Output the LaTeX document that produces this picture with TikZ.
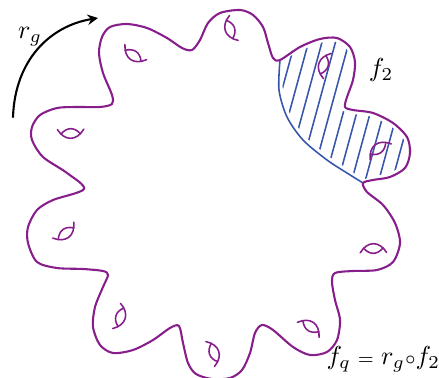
\documentclass[tikz,border=0pt]{standalone}
\usetikzlibrary{arrows}
\definecolor{plum}{RGB}{135,30,140}
\definecolor{hatchblue}{RGB}{55,85,170}
\tikzset{
  outline/.style={plum, line width=0.8pt},
  border/.style={hatchblue, line width=0.6pt},
  hatch/.style={hatchblue, line width=0.6pt},
  fish/.pic={
    \draw[outline, line width=0.6pt] (-1.1,0.55) .. controls (-0.5,-0.45) and (0.5,-0.45) .. (1.1,0.55);
    \draw[outline, line width=0.6pt] (-0.81,0.17) .. controls (-0.3,0.75) and (0.3,0.75) .. (0.81,0.17);
  }
}
\begin{document}
\begin{tikzpicture}[>=stealth, x=0.0135cm, y=0.0135cm, line join=round, line cap=round]
        \useasboundingbox (0,0) rectangle (439,378);
        % hatched part f_2
        \begin{scope}
          \clip plot[smooth cycle] coordinates {(280,318) (300,331) (320,339) (337,340) (350,331) (355,316)
            (353,298) (347,281) (345,271) (353,268) (373,265) (393,255) (407,241) (410,225) (405,210)
            (390,201) (373,198) (363,195) (347,205) (327,218) (303,238) (287,261) (279,288)};
          \foreach \k in {0,...,12}
            \draw[hatch] (284+\k*13.5,345) -- ++(-45,-165);
          \draw[white, line width=3pt] plot[smooth cycle] coordinates {(280,318) (300,331) (320,339) (337,340) (350,331) (355,316)
            (353,298) (347,281) (345,271) (353,268) (373,265) (393,255) (407,241) (410,225) (405,210)
            (390,201) (373,198) (363,195) (347,205) (327,218) (303,238) (287,261) (279,288)};
        \end{scope}
        \draw[border] plot[smooth] coordinates {(280,318) (279,288) (287,261) (303,238) (327,218) (347,205) (363,195)};
        % the wavy curve
        \draw[outline] plot[smooth cycle] coordinates {
          (84,189) (67,205) (43,221) (32,238) (32,251) (40,263) (57,270) (77,271) (100,271) (112,274)
          (112,283) (103,305) (99,325) (102,341) (110,351) (127,354) (147,350) (167,340) (182,330) (192,328)
          (200,338) (208,355) (220,365) (240,368) (253,363) (263,351) (268,335) (273,320) (280,318)
          (300,331) (320,339) (337,340) (350,331) (355,316) (353,298) (347,281) (345,271)
          (353,268) (373,265) (393,255) (407,241) (410,225) (405,210) (390,201) (373,198) (363,195)
          (367,186) (383,173) (395,155) (400,135) (393,116) (377,108) (353,107) (335,105)
          (332,96) (335,78) (340,58) (337,38) (327,26) (310,23) (293,31) (273,48) (262,53)
          (255,45) (250,25) (242,8) (230,0) (212,-1) (196,4) (188,15) (183,35) (179,52)
          (170,50) (153,38) (133,28) (113,25) (100,33) (93,51) (95,71) (103,91) (108,103)
          (103,107) (83,109) (57,110) (37,116) (28,135) (28,151) (37,168) (53,178)};
        % fish marks
        \begin{scope}[shift={(222,187)}]
          \foreach \a in {16,52,...,340}
            \pic[rotate=\a-159, scale=12] at (\a:161) {fish};
        \end{scope}
        % rotation r_g
        \coordinate (rgstart) at (13,261);
        \coordinate (rgend) at (98,360);
        \draw[->, line width=0.8pt] (rgstart) .. controls (15,318) and (50,352) .. (rgend);
        \node (rg) at (30,341) {$r_g$};
        \node (ftwo) at (381,308) {$f_2$};
        \node (fq) [anchor=base west, inner sep=0pt] at (326,13)
          {$f_q \mathrel{\scriptstyle =} r_g{\scriptstyle\circ}f_2$};
\end{tikzpicture}
\end{document}
